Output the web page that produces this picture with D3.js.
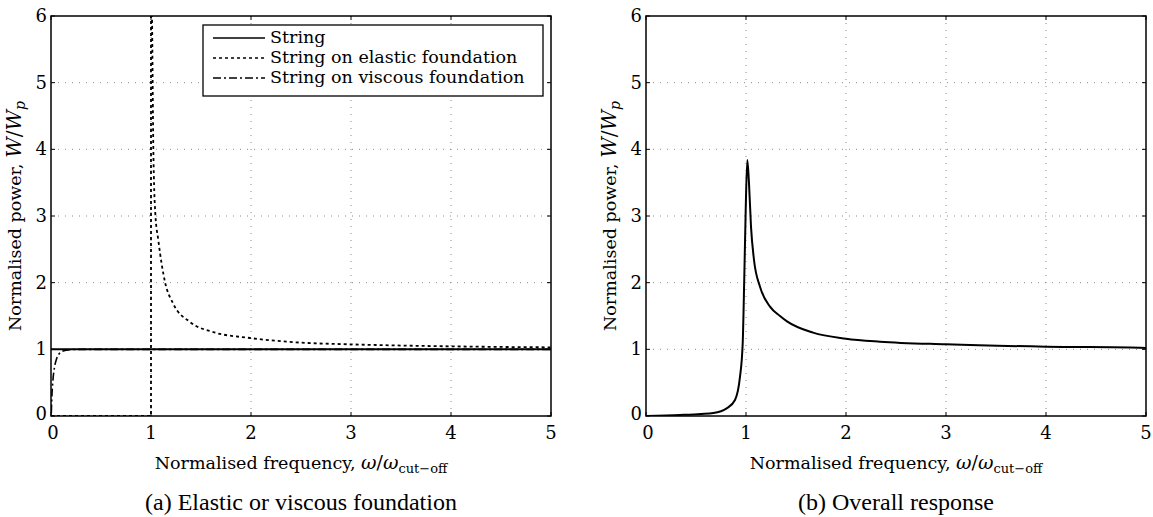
<!DOCTYPE html>
<html>
<head>
<meta charset="utf-8">
<script src="https://cdn.jsdelivr.net/npm/d3@7"></script>
<style>
  body { margin: 0; background: #fff; }
</style>
</head>
<body>
<div id="chart"></div>
<script>
const w = 1153, h = 517;

// ticks
const xTicks = [0, 1, 2, 3, 4, 5];
const yTicks = [0, 1, 2, 3, 4, 5, 6];

// (a) curves
const stringCurve = [[0, 1], [5, 1]];
const elasticAsymptote = [[0, 0], [1, 0], [1, 6.3]];
const elasticCurve = [[1.005, 6.3], [1.01, 5.97], [1.023, 4.04], [1.043, 3.04], [1.073, 2.64],
  [1.14, 2.01], [1.22, 1.69], [1.39, 1.41], [1.62, 1.26], [1.99, 1.17], [2.45, 1.105],
  [2.99, 1.075], [3.5, 1.057], [3.99, 1.045], [4.5, 1.036], [5, 1.03]];
const viscousCurve = [[0.003, 0.05], [0.01, 0.33], [0.02, 0.55], [0.035, 0.73], [0.057, 0.865],
  [0.08, 0.93], [0.107, 0.965], [0.17, 0.99], [0.3, 1.0], [1, 1.0], [5, 1.0]];

// (b) overall response
const overallCurve = [[0, 0], [0.34, 0.015], [0.55, 0.03], [0.673, 0.045], [0.807, 0.115],
  [0.89, 0.24], [0.94, 0.59], [0.967, 1.09], [0.983, 2.09], [0.997, 3.09], [1.013, 3.84],
  [1.03, 3.49], [1.05, 2.84], [1.08, 2.34], [1.14, 1.94], [1.24, 1.64], [1.34, 1.50],
  [1.41, 1.42], [1.67, 1.25], [2.0, 1.16], [2.34, 1.115], [3.0, 1.075], [4.0, 1.04], [4.94, 1.025], [5, 1.02]];

const legendLabels = ["String", "String on elastic foundation", "String on viscous foundation"];
const captions = ["(a) Elastic or viscous foundation", "(b) Overall response"];

const cm = "DejaVu Serif";
const times = "Liberation Serif";

const svg = d3.select("#chart").append("svg")
  .attr("width", w).attr("height", h)
  .attr("viewBox", "0 0 " + w + " " + h);

const yTop = 16, yBottom = 416;
const panels = [{ x0: 51, x1: 551 }, { x0: 646, x1: 1146 }];

const y = d3.scaleLinear().domain([0, 6]).range([yBottom, yTop]);

panels.forEach((p, i) => {
  const x = d3.scaleLinear().domain([0, 5]).range([p.x0, p.x1]);
  const g = svg.append("g");
  const clipId = "clip" + i;
  g.append("clipPath").attr("id", clipId).append("rect")
    .attr("x", p.x0).attr("y", yTop).attr("width", p.x1 - p.x0).attr("height", yBottom - yTop);

  // grid
  g.selectAll(null).data(xTicks.slice(1, -1)).enter().append("line")
    .attr("x1", d => x(d)).attr("x2", d => x(d)).attr("y1", yTop).attr("y2", yBottom)
    .attr("stroke", "#8a8a8a").attr("stroke-width", 1).attr("stroke-dasharray", "1,6");
  g.selectAll(null).data(yTicks.slice(1, -1)).enter().append("line")
    .attr("y1", d => y(d)).attr("y2", d => y(d)).attr("x1", p.x0).attr("x2", p.x1)
    .attr("stroke", "#8a8a8a").attr("stroke-width", 1).attr("stroke-dasharray", "1,6");

  // inner ticks
  xTicks.forEach(t => {
    g.append("line").attr("x1", x(t)).attr("x2", x(t)).attr("y1", yBottom).attr("y2", yBottom - 4).attr("stroke", "#000");
    g.append("line").attr("x1", x(t)).attr("x2", x(t)).attr("y1", yTop).attr("y2", yTop + 4).attr("stroke", "#000");
  });
  yTicks.forEach(t => {
    g.append("line").attr("y1", y(t)).attr("y2", y(t)).attr("x1", p.x0).attr("x2", p.x0 + 4).attr("stroke", "#000");
    g.append("line").attr("y1", y(t)).attr("y2", y(t)).attr("x1", p.x1).attr("x2", p.x1 - 4).attr("stroke", "#000");
  });

  const line = d3.line().x(d => x(d[0])).y(d => y(d[1]));
  const smooth = d3.line().x(d => x(d[0])).y(d => y(d[1])).curve(d3.curveMonotoneX);
  const curves = g.append("g").attr("clip-path", "url(#" + clipId + ")").attr("fill", "none").attr("stroke", "#000");

  if (i === 0) {
    curves.append("path").attr("d", line(elasticAsymptote)).attr("stroke-width", 1.8).attr("stroke-dasharray", "3,3");
    curves.append("path").attr("d", smooth(elasticCurve)).attr("stroke-width", 1.8).attr("stroke-dasharray", "3,3");
    curves.append("path").attr("d", smooth(viscousCurve)).attr("stroke-width", 1.6).attr("stroke-dasharray", "8,3,2,3");
    curves.append("path").attr("d", line(stringCurve)).attr("stroke-width", 2);
  } else {
    curves.append("path").attr("d", smooth(overallCurve)).attr("stroke-width", 2);
  }

  // frame
  g.append("rect").attr("x", p.x0).attr("y", yTop).attr("width", p.x1 - p.x0).attr("height", yBottom - yTop)
    .attr("fill", "none").attr("stroke", "#000").attr("stroke-width", 1.5);

  // tick labels
  g.selectAll(null).data(xTicks).enter().append("text")
    .attr("font-family", cm)
    .attr("x", d => x(d) + (d === 0 ? 2 : 0)).attr("y", yBottom + 23)
    .attr("text-anchor", "middle").attr("font-size", 18).text(d => d);
  g.selectAll(null).data(yTicks).enter().append("text")
    .attr("font-family", cm)
    .attr("x", p.x0 - 4).attr("y", d => y(d) + 6 - (d === 0 ? 2 : 0))
    .attr("text-anchor", "end").attr("font-size", 18).text(d => d);

  // x label
  const xl = g.append("text").attr("font-family", cm).attr("x", (p.x0 + p.x1) / 2).attr("y", yBottom + 53)
    .attr("text-anchor", "middle").attr("font-size", 17.5);
  xl.append("tspan").text("Normalised frequency, ");
  xl.append("tspan").attr("font-style", "italic").attr("font-size", 19).text("ω");
  xl.append("tspan").attr("font-size", 19).text("/");
  xl.append("tspan").attr("font-style", "italic").attr("font-size", 19).text("ω");
  xl.append("tspan").attr("font-size", 13).attr("dy", 4).text("cut−off");

  // y label
  const yl = g.append("text").attr("font-family", cm)
    .attr("transform", "translate(" + (p.x0 - 30) + "," + ((yTop + yBottom) / 2) + ") rotate(-90)")
    .attr("text-anchor", "middle").attr("font-size", 17.5);
  yl.append("tspan").text("Normalised power, ");
  yl.append("tspan").attr("font-style", "italic").attr("font-size", 20).text("W");
  yl.append("tspan").attr("font-size", 20).text("/");
  yl.append("tspan").attr("font-style", "italic").attr("font-size", 20).text("W");
  yl.append("tspan").attr("font-style", "italic").attr("font-size", 14).attr("dy", 4).text("p");

  // caption
  svg.append("text").attr("font-family", times).attr("x", (p.x0 + p.x1) / 2).attr("y", 510)
    .attr("text-anchor", "middle").attr("font-size", 24).text(captions[i]);
});

// legend (panel a)
const lg = svg.append("g");
const lx = 203, ly = 25, lw = 340, lh = 71;
lg.append("rect").attr("x", lx).attr("y", ly).attr("width", lw).attr("height", lh)
  .attr("fill", "#fff").attr("stroke", "#000").attr("stroke-width", 1.3);
const dashes = [null, "3,3", "8,3,2,3"];
legendLabels.forEach((label, k) => {
  const yy = ly + 13 + k * 20;
  lg.append("line").attr("x1", lx + 10).attr("x2", lx + 62).attr("y1", yy).attr("y2", yy)
    .attr("stroke", "#000").attr("stroke-width", 1.6).attr("stroke-dasharray", dashes[k]);
  lg.append("text").attr("font-family", cm).attr("x", lx + 67).attr("y", yy + 5).attr("font-size", 17.5).text(label);
});
</script>
</body>
</html>
